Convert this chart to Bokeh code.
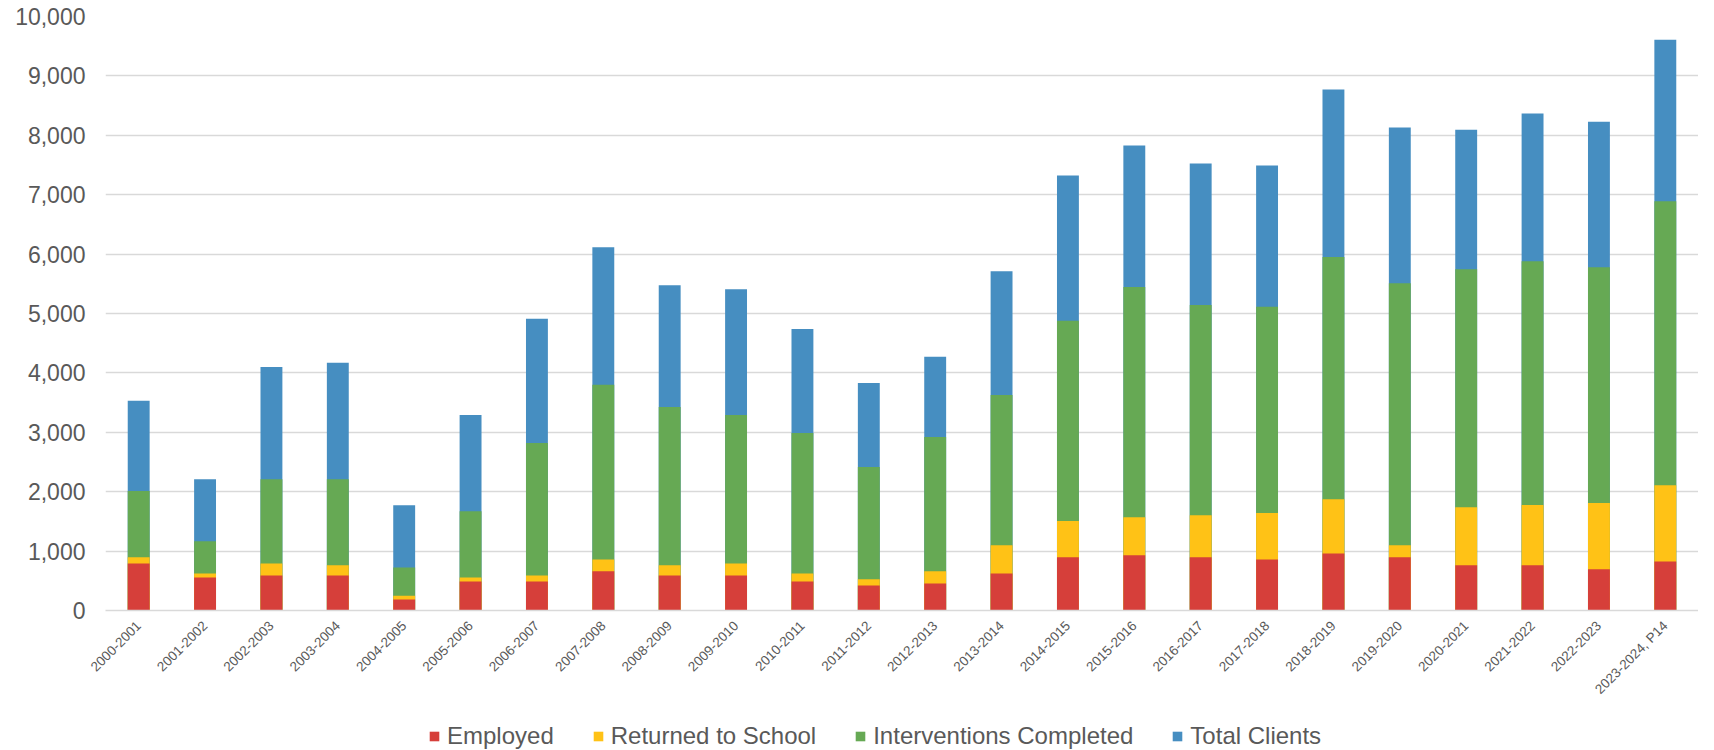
from bokeh.plotting import figure
from bokeh.models import (ColumnDataSource, FactorRange, Legend, LegendItem,
                          NumeralTickFormatter, FixedTicker, Range1d)
from bokeh.layouts import column
from bokeh.embed import file_html
from bokeh.resources import INLINE
import math

years = ["2000-2001", "2001-2002", "2002-2003", "2003-2004", "2004-2005", "2005-2006",
         "2006-2007", "2007-2008", "2008-2009", "2009-2010", "2010-2011", "2011-2012",
         "2012-2013", "2013-2014", "2014-2015", "2015-2016", "2016-2017", "2017-2018",
         "2018-2019", "2019-2020", "2020-2021", "2021-2022", "2022-2023", "2023-2024, P14"]

total_clients = [3530, 2210, 4100, 4170, 1770, 3290, 4910, 6115, 5475, 5410, 4740, 3830,
                 4270, 5710, 7325, 7830, 7525, 7490, 8770, 8130, 8095, 8365, 8230, 9610]
interventions = [2010, 1165, 2210, 2210, 725, 1670, 2820, 3800, 3425, 3290, 2990, 2415,
                 2920, 3630, 4880, 5445, 5145, 5115, 5950, 5510, 5745, 5880, 5780, 6890]
returned = [895, 625, 790, 760, 250, 555, 590, 860, 760, 790, 625, 525,
            660, 1100, 1505, 1570, 1605, 1640, 1875, 1100, 1740, 1775, 1810, 2110]
employed = [790, 555, 590, 590, 185, 490, 490, 660, 590, 590, 490, 420,
            455, 625, 895, 930, 895, 860, 960, 895, 760, 760, 695, 825]

series_names = ["Employed", "Returned to School", "Interventions Completed", "Total Clients"]
colors = {"Employed": "#D63F3A", "Returned to School": "#FFC216",
          "Interventions Completed": "#66A954", "Total Clients": "#468EC1"}

src = ColumnDataSource(dict(x=years, total=total_clients, inter=interventions,
                            ret=returned, emp=employed))

FONT = "Liberation Sans"
GREY = "#595959"

p = figure(x_range=FactorRange(*years, range_padding=0), y_range=(0, 10000),
           width=1698, height=710, output_backend="svg", toolbar_location=None,
           min_border_left=105, min_border_right=0, min_border_top=16,
           min_border_bottom=100)
p.outline_line_color = None

r_total = p.vbar(x="x", top="total", width=0.33, source=src,
                 fill_color=colors["Total Clients"], line_color=None)
r_inter = p.vbar(x="x", top="inter", width=0.33, source=src,
                 fill_color=colors["Interventions Completed"], line_color=None)
r_ret = p.vbar(x="x", top="ret", width=0.33, source=src,
               fill_color=colors["Returned to School"], line_color=None)
r_emp = p.vbar(x="x", top="emp", width=0.33, source=src,
               fill_color=colors["Employed"], line_color=None)

# y axis
p.yaxis.ticker = FixedTicker(ticks=list(range(0, 10001, 1000)))
p.yaxis.formatter = NumeralTickFormatter(format="0,0")
p.yaxis.axis_line_color = None
p.yaxis.major_tick_line_color = None
p.yaxis.minor_tick_line_color = None
p.yaxis.major_label_standoff = 14
p.yaxis.major_label_text_font = FONT
p.yaxis.major_label_text_font_size = "23px"
p.yaxis.major_label_text_color = GREY

# x axis
p.xaxis.axis_line_color = "#D9D9D9"
p.xaxis.axis_line_width = 1.5
p.xaxis.major_tick_line_color = None
p.xaxis.minor_tick_line_color = None
p.xaxis.major_label_orientation = math.pi / 4
p.xaxis.major_label_standoff = 7
p.xaxis.major_label_text_font = FONT
p.xaxis.major_label_text_font_size = "13.5px"
p.xaxis.major_label_text_color = GREY

p.xgrid.grid_line_color = None
p.ygrid.grid_line_color = "#D9D9D9"
p.ygrid.grid_line_width = 1.5

# legend in its own strip below the chart
lg = figure(width=1698, height=40, output_backend="svg", toolbar_location=None,
            x_range=Range1d(0, 1), y_range=Range1d(0, 1),
            x_axis_location=None, y_axis_location=None,
            min_border_left=0, min_border_right=0, min_border_top=0, min_border_bottom=0)
lg.outline_line_color = None
lg.grid.visible = False
hidden = ColumnDataSource(dict(x=[50], top=[1]))
dummies = {}
for n in series_names:
    dummies[n] = lg.vbar(x="x", top="top", width=0.1, source=hidden,
                         fill_color=colors[n], line_color=None)

legend = Legend(items=[LegendItem(label=n, renderers=[dummies[n]]) for n in series_names],
                orientation="horizontal", location=(323, 0),
                glyph_width=12, glyph_height=12, label_standoff=7, spacing=38,
                padding=0, margin=0, border_line_color=None,
                background_fill_alpha=0,
                label_text_font=FONT, label_text_font_size="24px",
                label_text_color=GREY)
lg.add_layout(legend, "center")

layout = column(p, lg, spacing=0)
open("out.html", "w").write(file_html(layout, INLINE))
